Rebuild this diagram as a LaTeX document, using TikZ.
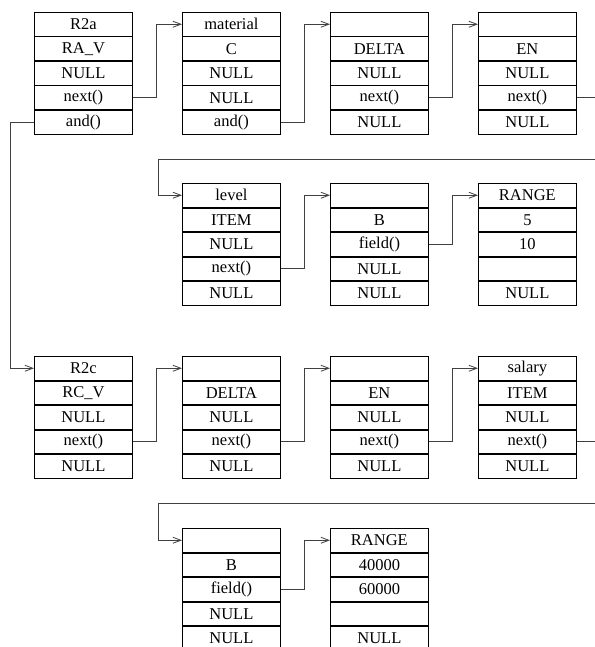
\documentclass[tikz,border=0pt]{standalone}
\usepackage{fontspec}
\setmainfont{Liberation Serif}
\usetikzlibrary{arrows.meta}
\tikzset{
  cell/.style={draw=black, line width=0.8pt, minimum width=98pt, minimum height=23.7pt,
    inner sep=0pt, font=\fontsize{16.5}{18}\selectfont},
  link/.style={draw=black!75, line width=0.9pt,
    -{Straight Barb[length=8pt,width=6pt,line width=0.8pt]}}
}
\newcommand\recbox[8]{%
  \node[cell,anchor=north west] (#1-1) at (#2,#3) {#4};
  \node[cell,anchor=north] (#1-2) at (#1-1.south) {#5};
  \node[cell,anchor=north] (#1-3) at (#1-2.south) {#6};
  \node[cell,anchor=north] (#1-4) at (#1-3.south) {#7};
  \node[cell,anchor=north] (#1-5) at (#1-4.south) {#8};
}
\begin{document}
\begin{tikzpicture}[x=1pt,y=-1pt]
\useasboundingbox (0,0) rectangle (594,647);
% row 1
\recbox{a}{34}{12}{R2a}{RA\_V}{NULL}{next()}{and()}
\recbox{b}{182}{12}{material}{C}{NULL}{NULL}{and()}
\recbox{c}{330}{12}{}{DELTA}{NULL}{next()}{NULL}
\recbox{d}{478}{12}{}{EN}{NULL}{next()}{NULL}
% row 2
\recbox{e}{182}{183}{level}{ITEM}{NULL}{next()}{NULL}
\recbox{f}{330}{183}{}{B}{field()}{NULL}{NULL}
\recbox{g}{478}{183}{RANGE}{5}{10}{}{NULL}
% row 3
\recbox{h}{34}{356}{R2c}{RC\_V}{NULL}{next()}{NULL}
\recbox{i}{182}{356}{}{DELTA}{NULL}{next()}{NULL}
\recbox{j}{330}{356}{}{EN}{NULL}{next()}{NULL}
\recbox{k}{478}{356}{salary}{ITEM}{NULL}{next()}{NULL}
% row 4
\recbox{m}{182}{528}{}{B}{field()}{NULL}{NULL}
\recbox{n}{330}{528}{RANGE}{40000}{60000}{}{NULL}
% wrap coordinates
\coordinate (w1r) at (600,159);
\coordinate (w1l) at (158,159);
\coordinate (w2r) at (600,503);
\coordinate (w2l) at (158,503);
% connectors
\draw[link] (a-4.east) -- ++(24,0) |- (b-1.west);
\draw[link] (b-5.east) -- ++(24,0) |- (c-1.west);
\draw[link] (c-4.east) -- ++(24,0) |- (d-1.west);
\draw[link] (d-4.east) -| (w1r) -- (w1l) |- (e-1.west);
\draw[link] (e-4.east) -- ++(24,0) |- (f-1.west);
\draw[link] (f-3.east) -- ++(24,0) |- (g-1.west);
\draw[link] (a-5.west) -- ++(-24,0) |- (h-1.west);
\draw[link] (h-4.east) -- ++(24,0) |- (i-1.west);
\draw[link] (i-4.east) -- ++(24,0) |- (j-1.west);
\draw[link] (j-4.east) -- ++(24,0) |- (k-1.west);
\draw[link] (k-4.east) -| (w2r) -- (w2l) |- (m-1.west);
\draw[link] (m-3.east) -- ++(24,0) |- (n-1.west);
\end{tikzpicture}
\end{document}
